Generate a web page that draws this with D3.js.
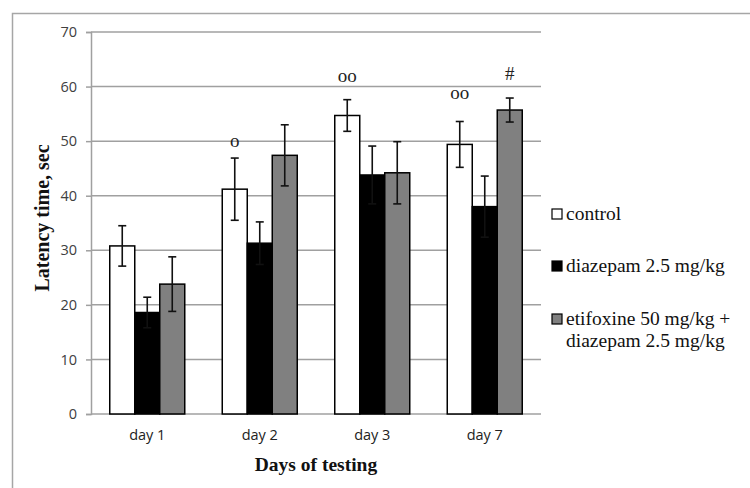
<!DOCTYPE html>
<html>
<head>
<meta charset="utf-8">
<script src="https://cdn.jsdelivr.net/npm/d3@7"></script>
<style>
  body { margin: 0; background: #fff; }
  svg { display: block; }
</style>
</head>
<body>
<div id="chart"></div>
<script>
const days = ['day 1', 'day 2', 'day 3', 'day 7'];
const groups = ['control', 'diazepam 2.5 mg/kg', 'etifoxine 50 mg/kg + diazepam 2.5 mg/kg'];
const control = [30.8, 41.2, 54.7, 49.4];
const controlErr = [3.7, 5.7, 2.9, 4.2];
const diazepam = [18.6, 31.3, 43.8, 38.0];
const diazepamErr = [2.8, 3.9, 5.3, 5.6];
const etifoxine = [23.8, 47.4, 44.2, 55.7];
const etifoxineErr = [5.0, 5.6, 5.7, 2.2];
const yTicks = [0, 10, 20, 30, 40, 50, 60, 70];
// significance marks: day, group index, level (in seconds) of the mark
const marks = [
    { day: 'day 2', group: 0, text: 'o', level: 48.9 },
    { day: 'day 3', group: 0, text: 'oo', level: 60.9 },
    { day: 'day 7', group: 0, text: 'oo', level: 57.8 },
    { day: 'day 7', group: 2, text: '#', level: 61.2 }
];

const fills = ['#ffffff', '#000000', '#808080'];

const width = 750;
const height = 488;
const margin = { top: 32, right: 209, bottom: 74, left: 91 };

const svg = d3.select('#chart')
    .append('svg')
    .attr('width', width)
    .attr('height', height);

// outer frame (only top and left visible)
svg.append('path')
    .attr('d', `M12.5,${height} V13.5 H${width}`)
    .attr('fill', 'none')
    .attr('stroke', '#a6a6a6')
    .attr('stroke-width', 1.5);

const x = d3.scaleBand()
    .domain(days)
    .range([margin.left, width - margin.right])
    .paddingInner(1 / 3)
    .paddingOuter(1 / 6);

const xSub = d3.scaleBand()
    .domain(d3.range(groups.length))
    .range([0, x.bandwidth()]);

const y = d3.scaleLinear()
    .domain([0, 70])
    .range([height - margin.bottom, margin.top]);

// gridlines + y axis
const yAxis = svg.append('g')
    .attr('transform', `translate(${margin.left},0)`)
    .call(d3.axisLeft(y).tickValues(yTicks).tickSize(5).tickPadding(9));
yAxis.select('.domain').attr('stroke', '#a0a0a0').attr('stroke-width', 1.5);
yAxis.selectAll('.tick line').attr('stroke', '#a0a0a0').attr('stroke-width', 1.5);
yAxis.selectAll('.tick text')
    .attr('font-family', 'Open Sans, sans-serif')
    .attr('font-size', 14.5)
    .attr('fill', '#404040');

svg.append('g')
    .selectAll('line')
    .data(yTicks)
    .join('line')
    .attr('x1', margin.left)
    .attr('x2', width - margin.right)
    .attr('y1', d => y(d))
    .attr('y2', d => y(d))
    .attr('stroke', '#a0a0a0')
    .attr('stroke-width', 1.5);

// x axis labels
const xAxis = svg.append('g')
    .attr('transform', `translate(0,${height - margin.bottom})`)
    .call(d3.axisBottom(x).tickSize(0).tickPadding(16));
xAxis.select('.domain').remove();
xAxis.selectAll('.tick text')
    .attr('font-family', 'Open Sans, sans-serif')
    .attr('font-size', 14.5)
    .attr('fill', '#222');

const series = [
    { values: control, err: controlErr },
    { values: diazepam, err: diazepamErr },
    { values: etifoxine, err: etifoxineErr }
];

const rows = [];
series.forEach((s, gi) => {
    days.forEach((day, di) => {
        rows.push({ day: day, group: gi, value: s.values[di], err: s.err[di] });
    });
});

const barX = d => x(d.day) + xSub(d.group);

svg.append('g')
    .selectAll('rect')
    .data(rows)
    .join('rect')
    .attr('x', barX)
    .attr('y', d => y(d.value))
    .attr('width', xSub.bandwidth())
    .attr('height', d => y(0) - y(d.value))
    .attr('fill', d => fills[d.group])
    .attr('stroke', '#000')
    .attr('stroke-width', 1.5);

// error bars
const capHalf = 4;
const errG = svg.append('g')
    .attr('stroke', '#111')
    .attr('stroke-width', 1.6);
rows.forEach(d => {
    const cx = barX(d) + xSub.bandwidth() / 2;
    errG.append('line')
        .attr('x1', cx).attr('x2', cx)
        .attr('y1', y(d.value + d.err)).attr('y2', y(d.value - d.err));
    [d.value + d.err, d.value - d.err].forEach(v => {
        errG.append('line')
            .attr('x1', cx - capHalf).attr('x2', cx + capHalf)
            .attr('y1', y(v)).attr('y2', y(v));
    });
});

// significance marks
svg.append('g')
    .selectAll('text')
    .data(marks)
    .join('text')
    .attr('x', d => x(d.day) + xSub(d.group) + xSub.bandwidth() / 2)
    .attr('y', d => y(d.level))
    .attr('text-anchor', 'middle')
    .attr('font-family', 'Liberation Serif, Times New Roman, serif')
    .attr('font-size', 19)
    .attr('fill', '#222')
    .text(d => d.text);

// axis titles
svg.append('text')
    .attr('x', (margin.left + width - margin.right) / 2)
    .attr('y', 471)
    .attr('text-anchor', 'middle')
    .attr('font-family', 'Liberation Serif, Times New Roman, serif')
    .attr('font-weight', 'bold')
    .attr('font-size', 19.5)
    .attr('fill', '#111')
    .text('Days of testing');

svg.append('text')
    .attr('transform', 'translate(49,218) rotate(-90)')
    .attr('text-anchor', 'middle')
    .attr('font-family', 'Liberation Serif, Times New Roman, serif')
    .attr('font-weight', 'bold')
    .attr('font-size', 20)
    .attr('fill', '#111')
    .text('Latency time, sec');

// legend
const legendLines = [['control'], ['diazepam 2.5 mg/kg'], ['etifoxine 50 mg/kg +', 'diazepam 2.5 mg/kg']];
const legendY = [220, 272, 325];
const legend = svg.append('g');
groups.forEach((g, i) => {
    legend.append('rect')
        .attr('x', 552)
        .attr('y', legendY[i] - 11)
        .attr('width', 10)
        .attr('height', 10)
        .attr('fill', fills[i])
        .attr('stroke', '#000')
        .attr('stroke-width', 1.2);
    const t = legend.append('text')
        .attr('x', 566)
        .attr('y', legendY[i])
        .attr('font-family', 'Liberation Serif, Times New Roman, serif')
        .attr('font-size', 19.5)
        .attr('fill', '#111');
    legendLines[i].forEach((line, li) => {
        t.append('tspan')
            .attr('x', 566)
            .attr('dy', li === 0 ? 0 : 22)
            .text(line);
    });
});
</script>
</body>
</html>
